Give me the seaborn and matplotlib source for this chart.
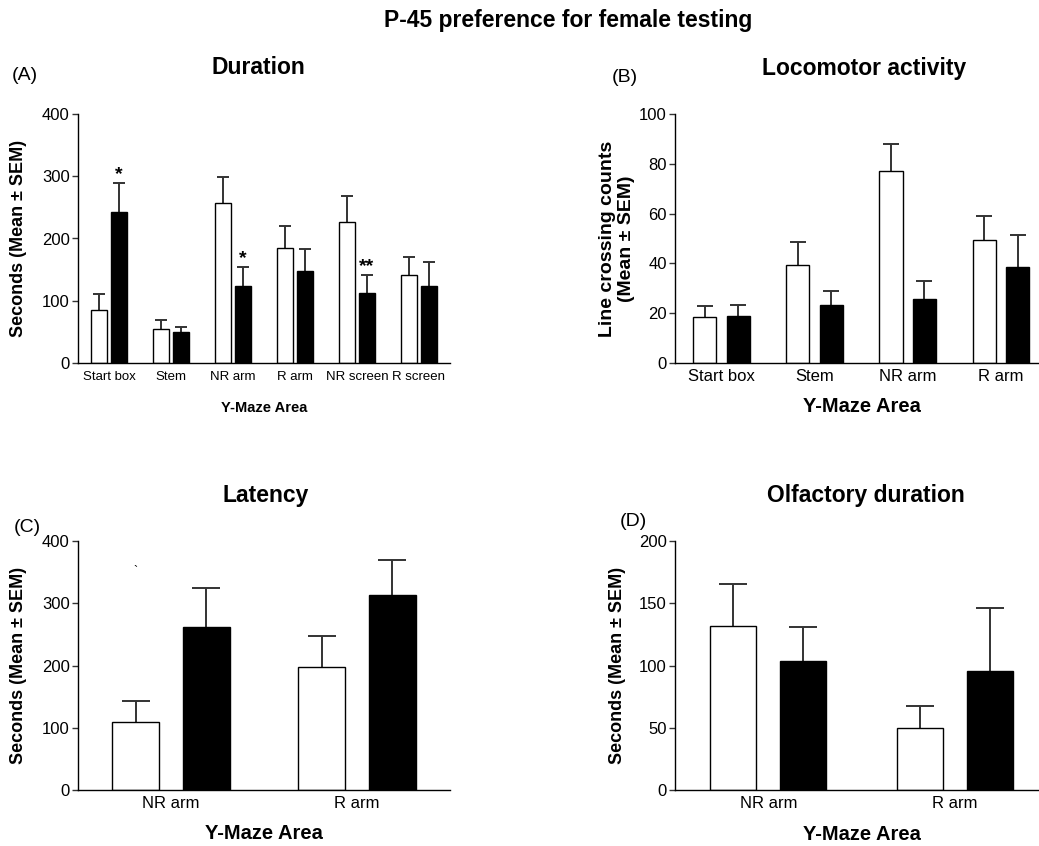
import matplotlib
matplotlib.use("Agg")
import matplotlib.pyplot as plt
import seaborn as sns
import pandas as pd
import numpy as np

# ---------------- data ----------------
group_names = ["open", "filled"]

dur_areas = ["Start box", "Stem", "NR arm", "R arm", "NR screen", "R screen"]
dur_open_mean = [85, 55, 257, 184, 226, 142]
dur_open_sem = [26, 14, 41, 36, 43, 28]
dur_filled_mean = [243, 50, 123, 147, 112, 124]
dur_filled_sem = [46, 8, 31, 36, 29, 38]
dur_stars = {"Start box": "*", "NR arm": "*", "NR screen": "**"}

loc_areas = ["Start box", "Stem", "NR arm", "R arm"]
loc_open_mean = [18.5, 39.5, 77.3, 49.5]
loc_open_sem = [4.3, 8.9, 10.7, 9.5]
loc_filled_mean = [18.9, 23.2, 25.6, 38.5]
loc_filled_sem = [4.3, 5.8, 7.2, 13.1]

lat_areas = ["NR arm", "R arm"]
lat_open_mean = [109, 198]
lat_open_sem = [34, 49]
lat_filled_mean = [262, 313]
lat_filled_sem = [62, 57]

olf_areas = ["NR arm", "R arm"]
olf_open_mean = [131.6, 50.1]
olf_open_sem = [34.1, 17.2]
olf_filled_mean = [104, 95.4]
olf_filled_sem = [26.6, 50.4]

# ---------------- style ----------------
sns.set_theme(style="ticks")
plt.rcParams['font.family'] = ['Liberation Sans', 'DejaVu Sans']
plt.rcParams['axes.linewidth'] = 1.0
for k in ['text.color', 'axes.labelcolor', 'xtick.color', 'ytick.color', 'axes.edgecolor']:
    plt.rcParams[k] = 'black'

W, H = 1039, 846
fig = plt.figure(figsize=(W / 100, H / 100), dpi=100)


def px_axes(left, right, top, bottom):
    return fig.add_axes([left / W, 1 - bottom / H, (right - left) / W, (bottom - top) / H])


def draw(ax, cats, om, osem, fm, fsem, width, gap, ymax, ystep, xmax,
         tick_fs, tick_pad, cap, stars=None):
    n = len(cats)
    df = pd.DataFrame({
        "area": cats * 2,
        "group": [group_names[0]] * n + [group_names[1]] * n,
        "value": list(om) + list(fm),
    })
    sns.barplot(data=df, x="area", y="value", hue="group", order=cats,
                hue_order=group_names,
                palette={group_names[0]: "white", group_names[1]: "black"},
                edgecolor="black", linewidth=1.0, width=width, gap=gap,
                errorbar=None, legend=False, ax=ax, saturation=1)
    sems = np.array(list(osem) + list(fsem))
    bars = ax.patches[:2 * n]
    for b in bars:
        b.set_zorder(2)
    xs = np.array([b.get_x() + b.get_width() / 2 for b in bars])
    hs = np.array([b.get_height() for b in bars])
    # upward-only SEM whiskers with a single cap at the top
    ax.errorbar(xs, hs, yerr=[np.zeros(len(sems)), sems], fmt="none",
                ecolor="#333333", elinewidth=1.4, capsize=0, zorder=1)
    ax.plot(xs, hs + sems, linestyle="none", marker="_", markersize=2 * cap,
            markeredgewidth=1.4, color="#333333", zorder=1)
    if stars:
        for cat, s in stars.items():
            i = n + cats.index(cat)
            ax.text(xs[i], hs[i] + sems[i], s, ha="center", va="bottom",
                    fontsize=14, fontweight="bold", color="black")
    ax.set_ylim(0, ymax)
    ax.set_yticks(np.arange(0, ymax + 1, ystep))
    ax.set_xlim(-0.5, xmax)
    sns.despine(ax=ax)
    ax.tick_params(axis="y", length=4, width=1, labelsize=12, pad=2, color="#333333")
    ax.tick_params(axis="x", length=0, labelsize=tick_fs, pad=tick_pad)
    for sp in ax.spines.values():
        sp.set_color("black")
        sp.set_zorder(3)


axA = px_axes(78, 450, 114, 363)
draw(axA, dur_areas, dur_open_mean, dur_open_sem, dur_filled_mean, dur_filled_sem,
     0.63, 0.175, 400, 100, 5.5, 9.5, 6, 4, stars=dur_stars)

axB = px_axes(675, 1039, 114, 363)
draw(axB, loc_areas, loc_open_mean, loc_open_sem, loc_filled_mean, loc_filled_sem,
     0.72, 0.31, 100, 20, 3.41, 12, 4, 6)

axC = px_axes(78, 450, 541, 790)
draw(axC, lat_areas, lat_open_mean, lat_open_sem, lat_filled_mean, lat_filled_sem,
     0.76, 0.34, 400, 100, 1.5, 12, 4, 10)

axD = px_axes(675, 1039, 541, 790)
draw(axD, olf_areas, olf_open_mean, olf_open_sem, olf_filled_mean, olf_filled_sem,
     0.75, 0.34, 200, 50, 1.45, 12, 4, 10)

# stray mark present in the original panel C
axC.text(-0.19, 350, "`", ha="center", va="center", fontsize=9)

# axis labels
def labels(ax, ylab, yfs, yx, xfs, xx, xy, ls=1.0):
    ax.set_ylabel(ylab, fontsize=yfs, fontweight="bold", linespacing=ls)
    ax.yaxis.set_label_coords(yx, 0.5)
    ax.set_xlabel("Y-Maze Area", fontsize=xfs, fontweight="bold")
    ax.xaxis.set_label_coords(xx, xy)
    ax.xaxis.label.set_va("center")
    ax.yaxis.label.set_va("center")

labels(axA, "Seconds (Mean ± SEM)", 13, -0.161, 10.5, 0.5, -0.181)
labels(axB, "Line crossing counts\n(Mean ± SEM)", 14, -0.16, 14.5, 0.514, -0.173, ls=1.15)
labels(axC, "Seconds (Mean ± SEM)", 13, -0.161, 14.5, 0.5, -0.173)
labels(axD, "Seconds (Mean ± SEM)", 13, -0.157, 14.5, 0.514, -0.177)

# titles
fig.text(568 / W, 1 - 20 / H, "P-45 preference for female testing", ha="center",
         va="center", fontsize=16.5, fontweight="bold")
for x, y, t in [(258, 68, "Duration"), (864, 68, "Locomotor activity"),
                (266, 495, "Latency"), (866, 495, "Olfactory duration")]:
    fig.text(x / W, 1 - y / H, t, ha="center", va="center", fontsize=16.5,
             fontweight="bold")
for x, y, t in [(12, 75, "(A)"), (612, 78, "(B)"), (14, 527, "(C)"), (620, 521, "(D)")]:
    fig.text(x / W, 1 - y / H, t, ha="left", va="center", fontsize=14)

fig.savefig("out.png", dpi=100)
